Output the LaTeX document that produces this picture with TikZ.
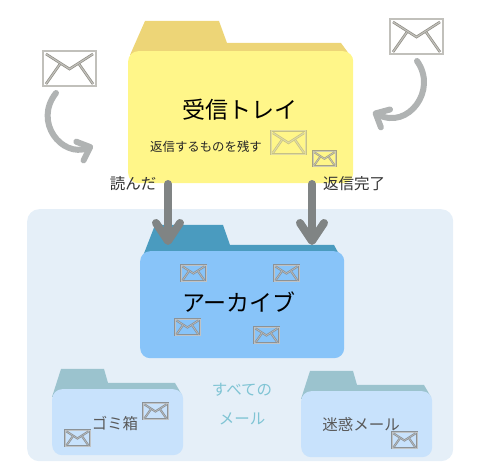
\documentclass[tikz,border=0pt]{standalone}
\usepackage{fontspec}
\setmainfont{Noto Sans CJK JP}
\usetikzlibrary{arrows.meta, positioning}

\definecolor{inboxbody}{HTML}{FFF689}
\definecolor{inboxtab}{HTML}{EDD577}
\definecolor{allmail}{HTML}{E5EFF8}
\definecolor{archivebody}{HTML}{88C4F9}
\definecolor{archivetab}{HTML}{4A9BBF}
\definecolor{smallbody}{HTML}{C8E2FC}
\definecolor{smalltab}{HTML}{9BC3CE}
\definecolor{flowgray}{HTML}{808484}
\definecolor{curvegray}{HTML}{B0B3B3}
\definecolor{mailgray}{HTML}{8E8C84}
\definecolor{minigray}{HTML}{8C9296}
\definecolor{tealtext}{HTML}{7FC4D4}

\begin{document}
\begin{tikzpicture}[
    x=1pt, y=-1pt,
    folder/.style={anchor=north west, inner sep=0pt, rounded corners=10pt},
    flow/.style={flowgray, line width=8pt, line cap=round, -{Straight Barb[round, length=18pt, width=24pt]}},
    curve/.style={curvegray, line width=6pt, line cap=round, -{Straight Barb[round, length=11pt, width=20pt]}},
    caption/.style={font=\fontsize{15.5}{15.5}\selectfont, text=black!80, inner sep=0pt},
    title/.style={font=\fontsize{23}{23}\selectfont, text=black, inner sep=0pt},
    mail/.pic={
        \draw[mail line] (0,0) rectangle (53,35);
        \draw[mail line] (3,3) -- (26.5,18) -- (50,3);
        \draw[mail line] (17,13) -- (3,33);
        \draw[mail line] (36,13) -- (50,33);
    }
]
\useasboundingbox (0,0) rectangle (480,465);

% ==========================
% FONDO
% ==========================
\node[folder, fill=allmail, rounded corners=12pt, minimum width=426pt, minimum height=252pt] (all) at (27,209) {};

% ==========================
% CARPETAS
% ==========================
\fill[inboxtab] (130,55) -- (145,21) -- (219,21) -- (227,43) -- (341,43) -- (352,58) -- cycle;
\node[folder, fill=inboxbody, minimum width=225pt, minimum height=132pt] (inbox) at (128,51) {};

\fill[archivetab] (143,256) -- (155,225) -- (223,225) -- (230,245) -- (334,245) -- (340,256) -- cycle;
\node[folder, fill=archivebody, minimum width=204pt, minimum height=107pt] (archive) at (140,251) {};

\foreach \x/\y/\name in {52/369/trash, 301/371/spam} {
    \fill[smalltab] (\x,\y+28) -- (\x+9,\y) -- (\x+52,\y) -- (\x+56,\y+14) -- (\x+123,\y+14) -- (\x+130,\y+26) -- cycle;
    \node[folder, fill=smallbody, minimum width=131pt, minimum height=66pt] (\name) at (\x,\y+20) {};
}

% ==========================
% SOBRES
% ==========================
\foreach \i/\x/\y/\s/\col/\w/\lw in {
    1/43/51/1/mailgray/1.2/0.7, 2/390/19/1/mailgray/1.2/0.7,
    3/271/131/0.66/mailgray!50!inboxbody/1.0/0.7, 4/313/151/0.43/mailgray!80!inboxbody/0.6/0.7,
    5/181/265/0.47/minigray/0.5/0.8, 6/274/265/0.47/minigray/0.5/0.8,
    7/175/319/0.47/minigray/0.5/0.8, 8/254/327/0.47/minigray/0.5/0.8,
    9/143/403/0.47/minigray/0.5/0.8, 10/65/430/0.47/minigray/0.5/0.8, 11/392/432/0.47/minigray/0.5/0.8
} {
    \pic[scale=\s, mail line/.style={draw=\col, line width=\lw pt, double=white!45!\col, double distance=\w pt}] (mail-\i) at (\x,\y) {mail};
}

% ==========================
% TEXTOS
% ==========================
\node[title] (inbox-label) at (240,110) {受信トレイ};
\node[inner sep=0pt, text=black!85, font=\fontsize{12.4}{12.4}\selectfont] (keep-label) at (206,147) {返信するものを残す};
\node[caption] (read-label) at (133,184) {読んだ};
\node[caption] (done-label) at (354,184) {返信完了};
\node[title] (archive-label) at (239,302) {アーカイブ};
\node[caption, text=black!65] (trash-label) at (115,424) {ゴミ箱};
\node[caption, text=black!65] (spam-label) at (361,425) {迷惑メール};
\node[caption, text=tealtext] (all-label-1) at (242,390) {すべての};
\node[caption, text=tealtext] (all-label-2) at (242,419) {メール};

% ==========================
% FLECHAS
% ==========================
\coordinate (read-start) at (168,184);
\coordinate (read-end) at (168,245);
\coordinate (done-start) at (312,184);
\coordinate (done-end) at (312,245);
\draw[flow] (read-start) -- (read-end);
\draw[flow] (done-start) -- (done-end);

\coordinate (in-left-start) at (56,93);
\coordinate (in-left-end) at (93,146);
\coordinate (in-right-start) at (417,61);
\coordinate (in-right-end) at (373,112);
\draw[curve] (in-left-start) .. controls (33,122) and (62,158) .. (in-left-end);
\draw[curve] (in-right-start) .. controls (438,90) and (408,130) .. (in-right-end);

\end{tikzpicture}
\end{document}
